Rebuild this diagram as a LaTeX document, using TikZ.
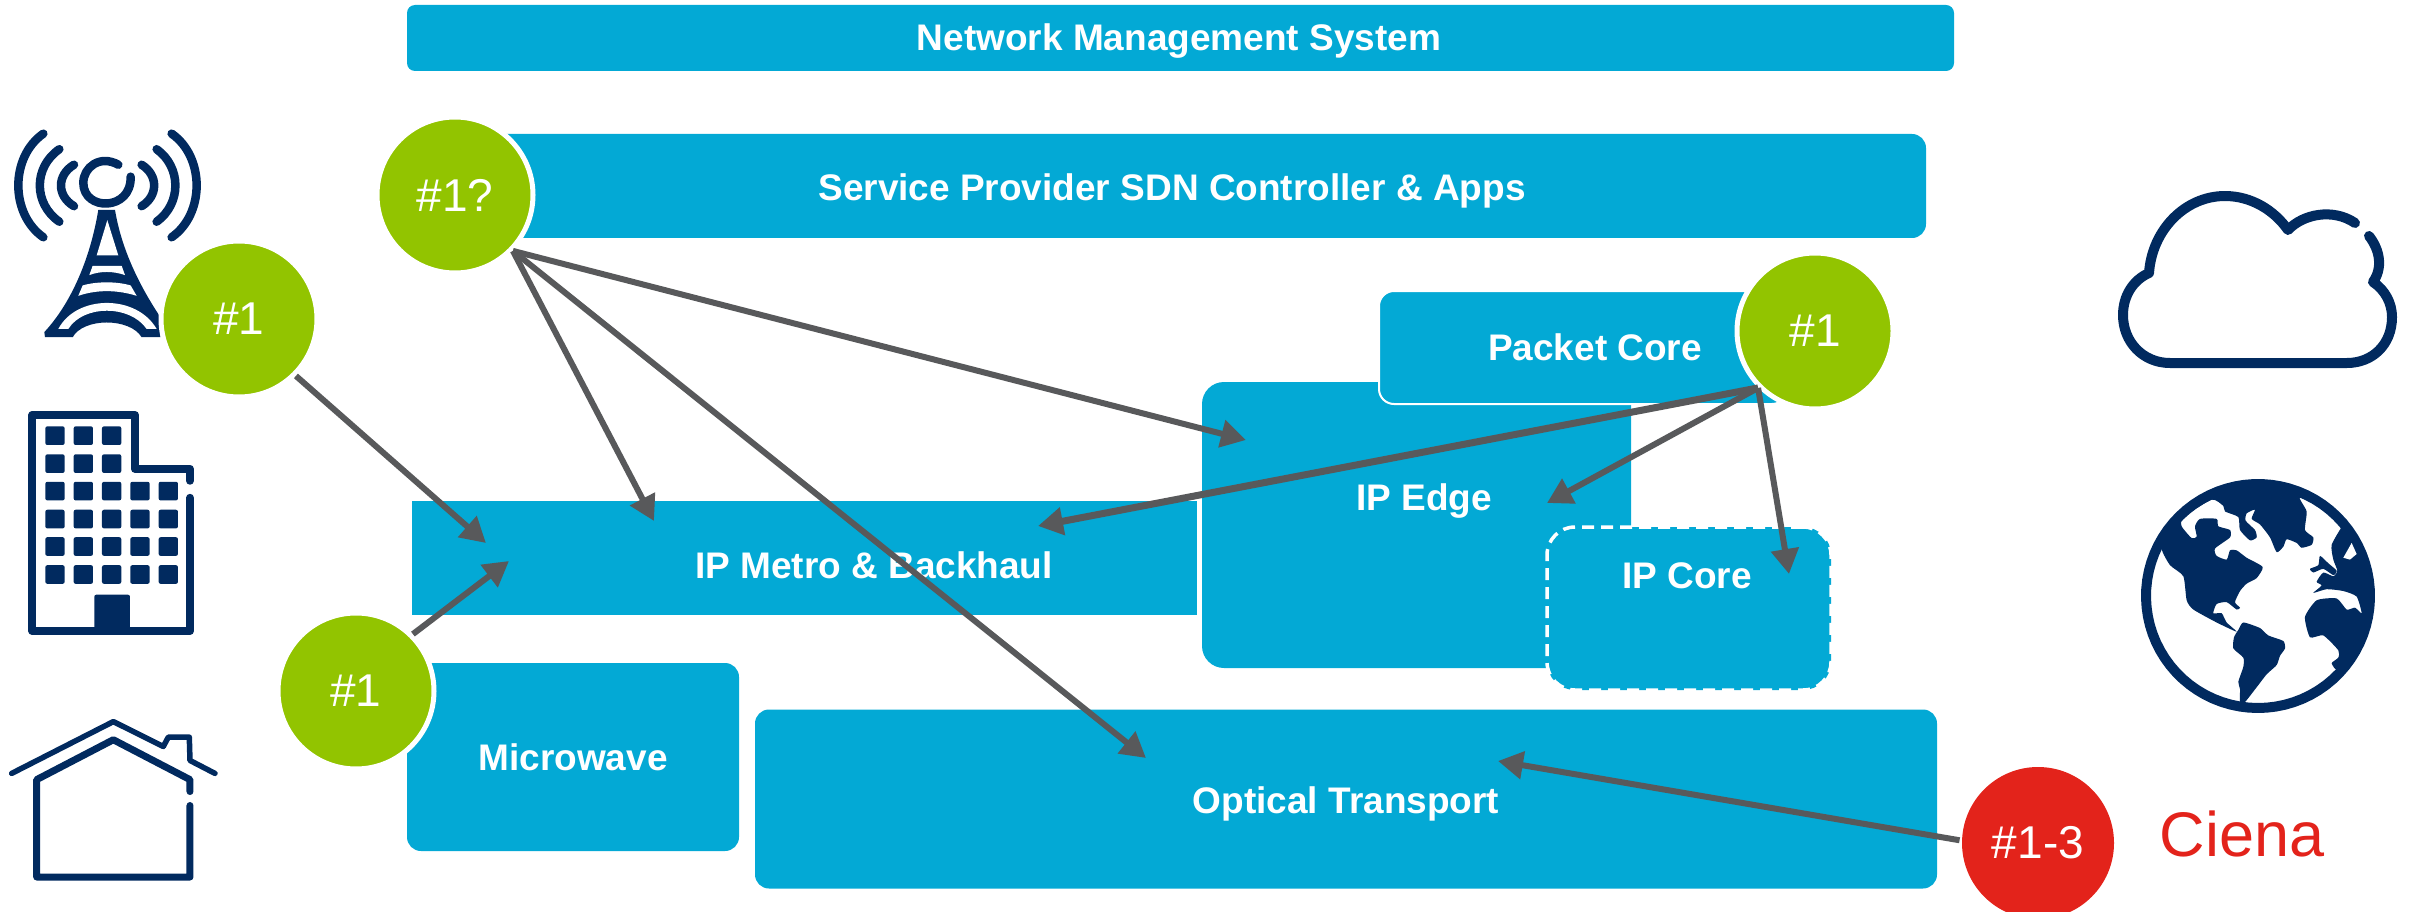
\documentclass[tikz,border=0pt]{standalone}
\usepackage{fontspec}
\setmainfont{Liberation Sans}
\usetikzlibrary{arrows.meta}
\definecolor{boxblue}{HTML}{03A9D5}
\definecolor{taggreen}{HTML}{92C400}
\definecolor{tagred}{HTML}{E3231B}
\definecolor{iconnavy}{HTML}{012A5F}
\definecolor{flowgray}{HTML}{58595B}
\begin{document}
\begin{tikzpicture}[x=1pt,y=-1pt,
    main box/.style={rectangle, fill=boxblue, inner sep=0pt},
    box text/.style={text=white, inner sep=0pt, font=\fontsize{37}{44}\selectfont\bfseries},
    tag node/.style={circle, draw=white, line width=5pt, inner sep=0pt, minimum size=156pt, text=white, font=\fontsize{46}{52}\selectfont},
    flow/.style={every edge/.style={draw=flowgray, line width=6pt, -{Triangle[length=25pt,width=27pt]}}},
    icon line/.style={draw=iconnavy, line cap=round, line join=round}]
  \useasboundingbox (0,0) rectangle (2412,912);

  % boxes
  \node[main box, rounded corners=8pt, minimum width=1547pt, minimum height=66pt] (nms) at (1180.5,38) {};
  \node[box text] (nmstext) at (1179,41) {Network Management System};
  \node[main box, rounded corners=14pt, minimum width=1456pt, minimum height=104pt] (sdn) at (1198,186) {};
  \node[box text] (sdntext) at (1172,191) {Service Provider SDN Controller \& Apps};
  \node[main box, rounded corners=22pt, minimum width=429pt, minimum height=286pt] (edge) at (1416.5,525) {};
  \node[box text] (edgetext) at (1424,501) {IP Edge};
  \node[main box, draw=white, line width=2pt, rounded corners=15pt, minimum width=408pt, minimum height=113pt] (packet) at (1583,347.5) {};
  \node[box text] (packettext) at (1595,347) {Packet Core};
  \node[main box, draw=white, line width=3.5pt, dash pattern=on 12pt off 7pt, rounded corners=28pt, minimum width=284pt, minimum height=163pt] (ipcore) at (1689,608.5) {};
  \node[box text] (ipcoretext) at (1687,576) {IP Core};
  \node[main box, minimum width=785pt, minimum height=114pt] (metro) at (804.5,558) {};
  \node[box text] (metrotext) at (874,565) {IP Metro \& Backhaul};
  \node[main box, rounded corners=14pt, minimum width=332pt, minimum height=188pt] (microwave) at (573,757) {};
  \node[box text] (microwavetext) at (573,757) {Microwave};
  \node[main box, rounded corners=14pt, minimum width=1182pt, minimum height=179pt] (optical) at (1346,799) {};
  \node[box text] (opticaltext) at (1346,804) {Optical Transport};

  % tower
  \begin{scope}[shift={(0,100)},x=.3333pt,y=-.518pt]
    \fill[iconnavy] (295,212) .. controls (270,310) and (210,395) .. (133,448) -- (135,458) -- (218,458) .. controls (250,420) and (390,420) .. (425,458) -- (482,458) -- (482,420) .. controls (420,360) and (365,290) .. (345,212) -- cycle;
    \fill[white] (322,232) -- (290,300) -- (355,300) -- cycle;
    \fill[white] (278,320) -- (365,320) -- (375,338) .. controls (340,330) and (300,330) .. (268,338) -- cycle;
    \fill[white] (248,358) .. controls (290,350) and (350,350) .. (392,358) -- (410,378) .. controls (350,366) and (290,366) .. (235,378) -- cycle;
    \fill[white] (175,442) .. controls (230,375) and (410,375) .. (470,442) -- (440,442) .. controls (390,395) and (250,395) .. (205,442) -- cycle;
    \draw[icon line, line width=8.5pt] (355,125) .. controls (300,105) and (250,130) .. (250,160) .. controls (250,215) and (395,215) .. (392,148);
    \draw[icon line, line width=8.5pt] (130,65) .. controls (30,110) and (30,220) .. (130,265);
    \draw[icon line, line width=8.5pt] (178,95) .. controls (100,130) and (100,200) .. (178,235);
    \draw[icon line, line width=8.5pt] (222,125) .. controls (170,145) and (170,185) .. (222,205);
    \draw[icon line, line width=8.5pt] (515,65) .. controls (615,110) and (615,220) .. (515,265);
    \draw[icon line, line width=8.5pt] (470,95) .. controls (545,130) and (545,200) .. (470,235);
    \draw[icon line, line width=8.5pt] (425,125) .. controls (475,145) and (475,185) .. (425,205);
  \end{scope}

  % building
  \begin{scope}[shift={(0,100)},x=.3333pt,y=-.518pt]
    \draw[icon line, line width=8pt] (570,735) -- (570,712) -- (405,712) -- (405,608) -- (97,608) -- (97,1025) -- (570,1025) -- (570,768);
    \foreach \row in {648,702,755,809,862,916}
      \foreach \col in {165,250,335}
        \fill[iconnavy, rounded corners=2pt] (\col-29,\row-18) rectangle (\col+29,\row+18);
    \foreach \row in {755,809,862,916}
      \foreach \col in {420,505}
        \fill[iconnavy, rounded corners=2pt] (\col-29,\row-18) rectangle (\col+29,\row+18);
    \fill[iconnavy, rounded corners=2pt] (283,1025) -- (283,955) -- (390,955) -- (390,1025) -- cycle;
  \end{scope}

  % house
  \begin{scope}[shift={(0,100)},x=.3333pt,y=-.518pt]
    \draw[icon line, line width=5.5pt] (35,1300) -- (340,1200) -- (490,1248) -- (505,1230) -- (568,1230) -- (570,1275) -- (645,1300);
    \draw[icon line, line width=7pt] (570,1335) -- (570,1312) -- (340,1235) -- (110,1312) -- (110,1500) -- (570,1500) -- (570,1362);
  \end{scope}

  % cloud
  \draw[icon line, line width=10pt] (2369,236) .. controls (2380,250) and (2383,268) .. (2373,282)
    .. controls (2385,290) and (2392,303) .. (2392,317)
    .. controls (2392,345) and (2372,363) .. (2347,363) -- (2170,363)
    .. controls (2143,363) and (2123,342) .. (2123,315)
    .. controls (2123,296) and (2133,280) .. (2149,273)
    .. controls (2152,230) and (2185,196) .. (2225,196)
    .. controls (2251,196) and (2274,210) .. (2288,230)
    .. controls (2303,214) and (2333,208) .. (2355,223);

  % globe
  \draw[icon line, line width=10pt] plot[domain=41:410, samples=80] ({2258+112*cos(\x)},{596-112*sin(\x)});
  \begin{scope}[shift={(2080,160)},x=.3333pt,y=-.37pt]
    \fill[iconnavy] plot[smooth cycle, tension=.35] coordinates {(245,1050) (270,1095) (310,1125) (320,1190) (340,1215) (410,1250) (470,1275) (440,1250) (425,1225) (400,1225) (410,1200) (440,1195) (470,1215) (480,1210) (465,1195) (480,1165) (500,1145) (530,1130) (548,1100) (500,1075) (470,1055) (450,1055) (440,1080) (410,1070) (405,1050) (450,1020) (450,1000) (415,990) (410,970) (360,970) (345,990) (350,1018) (335,1022) (305,990) (310,965) (395,918) (430,935) (435,950) (475,965) (480,1000) (510,1028) (530,1020) (525,1000) (497,975) (500,955) (525,945) (515,970) (540,985) (570,1020) (590,1060) (610,1045) (620,1025) (650,1035) (665,1048) (695,1040) (700,1020) (675,1000) (680,950) (660,912) (750,948) (650,885) (535,870) (430,885) (340,930) (270,1000)};
    \fill[iconnavy] plot[smooth cycle, tension=.35] coordinates {(790,985) (755,1040) (760,1080) (772,1110) (760,1125) (730,1115) (710,1140) (725,1150) (700,1170) (740,1160) (790,1165) (830,1180) (845,1225) (825,1210) (800,1215) (770,1185) (710,1190) (675,1235) (690,1290) (730,1285) (775,1325) (775,1345) (755,1360) (775,1378) (830,1310) (870,1230) (880,1170) (870,1110) (840,1040) (800,985)};
    \fill[white] (790,1075) -- (815,1035) -- (830,1065) -- (810,1080) -- cycle;
    \fill[iconnavy] plot[smooth cycle, tension=.35] coordinates {(690,1105) (715,1095) (720,1070) (745,1090) (770,1110) (760,1122) (730,1105) (700,1115)};
    \fill[iconnavy] plot[smooth cycle, tension=.35] coordinates {(475,1270) (490,1250) (540,1265) (565,1285) (610,1300) (615,1320) (600,1340) (590,1365) (560,1390) (530,1425) (495,1465) (480,1470) (480,1430) (475,1410) (490,1370) (490,1345) (460,1320) (462,1290)};
  \end{scope}

  % tags
  \node[tag node, fill=taggreen] (sdntag) at (455,195) {\#1?};
  \node[tag node, fill=taggreen] (sitetag) at (239,319) {\#1};
  \node[tag node, fill=taggreen] (radiotag) at (356,691) {\#1};
  \node[tag node, fill=taggreen] (coretag) at (1815,331) {\#1};
  \node[tag node, fill=tagred, draw=none, minimum size=152pt] (cienatag) at (2038,843) {\#1-3};
  \node[text=tagred, inner sep=0pt, font=\fontsize{63}{70}\selectfont] (ciena) at (2242,834) {Ciena};

  % arrow ends
  \coordinate (metroa) at (486,543);
  \coordinate (metrob) at (509,561);
  \coordinate (metroc) at (654,521);
  \coordinate (metrod) at (1038,526);
  \coordinate (edgea) at (1246,440);
  \coordinate (edgeb) at (1547,503);
  \coordinate (ipcorea) at (1789,574);
  \coordinate (opticala) at (1146,758);
  \coordinate (opticalb) at (1498,761);

  \path[flow]
    (sitetag.315) edge (metroa)
    (radiotag.45) edge (metrob)
    (sdntag.316) edge (metroc)
                 edge (edgea)
                 edge (opticala)
    (coretag.225) edge [line width=7pt] (metrod)
                  edge (edgeb)
                  edge (ipcorea)
    (cienatag.178) edge (opticalb);
\end{tikzpicture}
\end{document}
